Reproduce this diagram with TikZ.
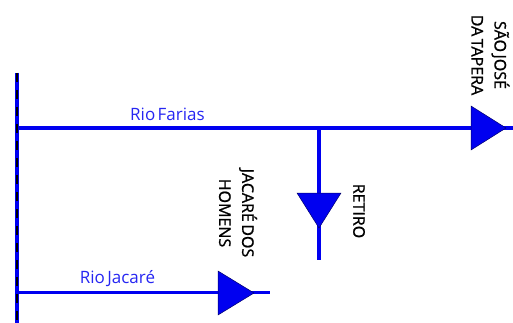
\documentclass[tikz,border=0pt]{standalone}
\usepackage{fontspec}
\setmainfont{Open Sans}[WordSpace=0.55]
\newfontfamily\gaugefont{Open Sans}[FakeBold=1.2,WordSpace=0.6]
\definecolor{riverblue}{RGB}{0,0,240}
\tikzset{
  river/.style={draw=riverblue,line width=3.8pt},
  mainriver/.style={draw=black,line width=1.2pt,dash pattern=on 9pt off 8pt},
  tri/.style={fill=riverblue,draw=black!55!riverblue,line width=0.5pt,line join=miter},
  riverlabel/.style={text=riverblue!85!white,font=\fontsize{17}{18}\selectfont,inner sep=0pt},
  gauge/.style={text=black,rotate=-90,align=center,font=\gaugefont\fontsize{16}{23}\selectfont,inner sep=0pt}
}
\begin{document}
\begin{tikzpicture}[x=1pt,y=-1pt]
\useasboundingbox (0,0) rectangle (513,323);
\coordinate (mt) at (17,73);
\coordinate (mb) at (17,323);
\coordinate (fa) at (17,128);
\coordinate (fb) at (513,128);
\coordinate (ra) at (319,128);
\coordinate (rb) at (319,260);
\coordinate (ja) at (17,292.5);
\coordinate (jb) at (270,292.5);
\draw[river] (fa) -- (fb);
\draw[river] (ra) -- (rb);
\draw[river] (ja) -- (jb);
\draw[river] (mt) -- (mb);
\draw[mainriver] (mt) -- (mb);
\draw[tri] (471,106) -- (506,128) -- (471,150) -- cycle;
\draw[tri] (297,193) -- (341,193) -- (319,228) -- cycle;
\draw[tri] (218,271) -- (254,293) -- (218,315) -- cycle;
\node[riverlabel] (lf) at (167.5,114.5) {Rio Farias};
\node[riverlabel] (lj) at (117.5,278.5) {Rio Jacaré};
\node[gauge] (sj) at (490.5,55) {SÃO JOSÉ\\DA TAPERA};
\node[gauge] (re) at (359,211) {RETIRO};
\node[gauge] (jh) at (238,213) {JACARÉ DOS\\HOMENS};
\end{tikzpicture}
\end{document}
